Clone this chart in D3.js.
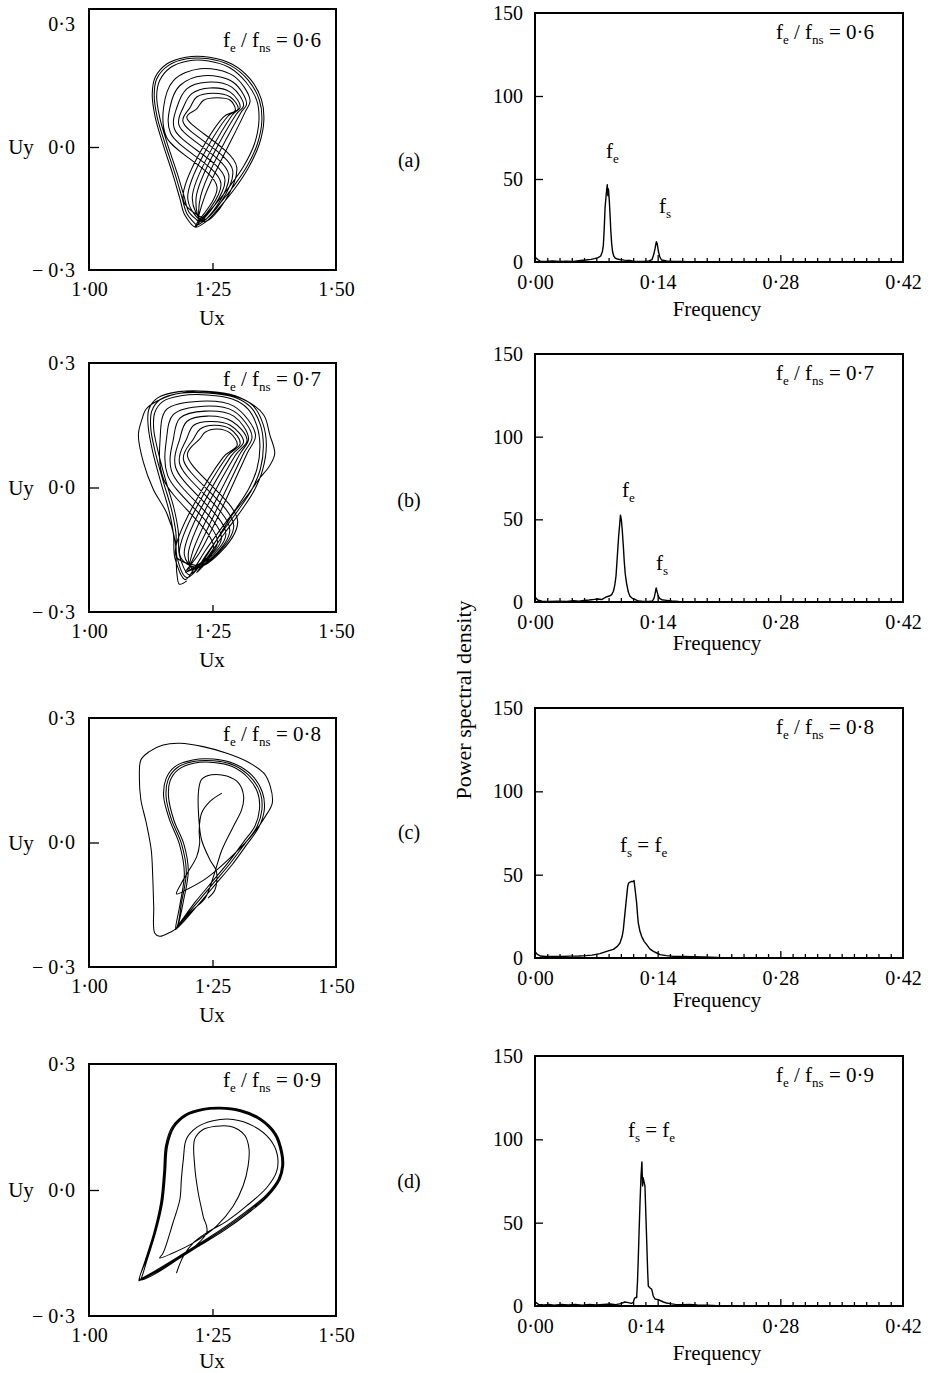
<!DOCTYPE html>
<html>
<head>
<meta charset="utf-8">
<script src="https://cdn.jsdelivr.net/npm/d3@7"></script>
<style>
  body { margin: 0; background: #fff; }
  svg { display: block; font-family: "Liberation Serif", "Times New Roman", serif; }
  text { fill: #000; white-space: pre; }
</style>
</head>
<body>
<svg id="fig" width="933" height="1373"></svg>
<script>
// ---------------- data ----------------
const ratioLabels = ["0·6", "0·7", "0·8", "0·9"];
const panelTags = ["(a)", "(b)", "(c)", "(d)"];

const uxTicks = [1.00, 1.25, 1.50];
const uxTickLabels = ["1·00", "1·25", "1·50"];
const uyTicks = [0.3, 0.0, -0.3];
const uyTickLabels = ["0·3", "0·0", "− 0·3"];
const freqTicks = [0, 0.14, 0.28, 0.42];
const freqTickLabels = ["0·00", "0·14", "0·28", "0·42"];
const psdTicks = [0, 50, 100, 150];

// Phase portraits (Ux, Uy): consecutive passes of the trajectory
const orbitA = [
  [[1.218,-0.191],[1.198,-0.162],[1.188,-0.122],[1.174,-0.065],[1.154,0.008],[1.138,0.073],[1.132,0.126],[1.137,0.166],[1.161,0.199],[1.198,0.215],[1.242,0.215],[1.286,0.199],[1.323,0.162],[1.345,0.114],[1.350,0.065],[1.341,0.008],[1.319,-0.049],[1.292,-0.097],[1.262,-0.142],[1.235,-0.178],[1.218,-0.191]],
  [[1.222,-0.185],[1.202,-0.158],[1.192,-0.118],[1.178,-0.062],[1.158,0.010],[1.143,0.073],[1.137,0.124],[1.143,0.162],[1.165,0.194],[1.200,0.210],[1.242,0.210],[1.284,0.194],[1.318,0.158],[1.340,0.112],[1.344,0.064],[1.335,0.008],[1.313,-0.047],[1.286,-0.094],[1.257,-0.138],[1.232,-0.172],[1.222,-0.185]],
  [[1.215,-0.195],[1.194,-0.166],[1.184,-0.126],[1.170,-0.068],[1.150,0.006],[1.134,0.073],[1.128,0.128],[1.134,0.170],[1.158,0.203],[1.196,0.219],[1.244,0.219],[1.290,0.202],[1.327,0.165],[1.349,0.116],[1.354,0.066],[1.345,0.008],[1.323,-0.050],[1.296,-0.100],[1.265,-0.146],[1.237,-0.182],[1.215,-0.195]],
  [[1.259,-0.097],[1.157,0.024],[1.151,0.097],[1.171,0.162],[1.225,0.191],[1.292,0.174],[1.326,0.114],[1.316,0.085],[1.235,-0.118],[1.221,-0.182]],
  [[1.267,-0.088],[1.165,0.034],[1.164,0.097],[1.184,0.150],[1.232,0.174],[1.292,0.158],[1.319,0.105],[1.307,0.083],[1.226,-0.120],[1.225,-0.180]],
  [[1.275,-0.078],[1.173,0.044],[1.178,0.097],[1.198,0.142],[1.238,0.158],[1.289,0.146],[1.313,0.101],[1.298,0.080],[1.217,-0.122],[1.228,-0.182]],
  [[1.283,-0.068],[1.182,0.054],[1.191,0.097],[1.208,0.130],[1.245,0.144],[1.286,0.134],[1.306,0.097],[1.290,0.078],[1.209,-0.125],[1.231,-0.178]],
  [[1.291,-0.058],[1.190,0.063],[1.205,0.097],[1.218,0.122],[1.252,0.131],[1.286,0.122],[1.302,0.093],[1.281,0.075],[1.200,-0.127],[1.235,-0.182]],
  [[1.299,-0.049],[1.198,0.073],[1.218,0.093],[1.232,0.114],[1.259,0.120],[1.286,0.114],[1.296,0.089],[1.272,0.073],[1.191,-0.130],[1.238,-0.178]]
];

const orbitB = [
  [[1.198,-0.225],[1.183,-0.233],[1.178,-0.208],[1.174,-0.127],[1.157,-0.061],[1.130,-0.004],[1.110,0.061],[1.100,0.127],[1.108,0.167],[1.115,0.188],[1.137,0.208],[1.198,0.230],[1.266,0.227],[1.320,0.208],[1.354,0.174],[1.366,0.127],[1.376,0.082],[1.366,0.053],[1.344,0.020],[1.320,-0.020],[1.293,-0.061]],
  [[1.198,-0.217],[1.178,-0.167],[1.176,-0.110],[1.167,-0.053],[1.151,0.012],[1.134,0.086],[1.125,0.143],[1.127,0.184],[1.144,0.212],[1.184,0.227],[1.239,0.228],[1.293,0.218],[1.327,0.194],[1.347,0.151],[1.353,0.102],[1.347,0.045],[1.330,-0.004],[1.303,-0.053],[1.273,-0.102],[1.239,-0.159],[1.215,-0.200]],
  [[1.202,-0.210],[1.183,-0.163],[1.181,-0.108],[1.172,-0.050],[1.156,0.014],[1.140,0.086],[1.131,0.141],[1.133,0.180],[1.149,0.207],[1.186,0.221],[1.239,0.223],[1.290,0.213],[1.322,0.189],[1.340,0.148],[1.346,0.100],[1.340,0.045],[1.324,-0.002],[1.298,-0.050],[1.268,-0.098],[1.235,-0.153],[1.213,-0.195]],
  [[1.195,-0.222],[1.174,-0.171],[1.171,-0.113],[1.162,-0.056],[1.146,0.010],[1.129,0.086],[1.120,0.145],[1.121,0.188],[1.139,0.216],[1.182,0.231],[1.239,0.232],[1.296,0.221],[1.332,0.197],[1.352,0.154],[1.359,0.104],[1.352,0.045],[1.335,-0.006],[1.308,-0.056],[1.277,-0.106],[1.243,-0.163],[1.218,-0.205]],
  [[1.252,-0.143],[1.151,0.020],[1.144,0.118],[1.157,0.188],[1.225,0.208],[1.293,0.196],[1.337,0.127],[1.320,0.082],[1.225,-0.155],[1.195,-0.204]],
  [[1.260,-0.133],[1.159,0.030],[1.157,0.118],[1.171,0.176],[1.232,0.196],[1.293,0.184],[1.330,0.123],[1.312,0.080],[1.217,-0.157],[1.200,-0.202]],
  [[1.268,-0.123],[1.167,0.040],[1.171,0.118],[1.184,0.167],[1.235,0.184],[1.293,0.172],[1.323,0.118],[1.304,0.078],[1.209,-0.158],[1.205,-0.199]],
  [[1.277,-0.114],[1.175,0.050],[1.184,0.118],[1.198,0.159],[1.239,0.172],[1.290,0.159],[1.320,0.114],[1.296,0.077],[1.201,-0.160],[1.211,-0.197]],
  [[1.285,-0.104],[1.183,0.060],[1.198,0.118],[1.212,0.150],[1.245,0.159],[1.286,0.150],[1.313,0.110],[1.287,0.075],[1.193,-0.162],[1.216,-0.194]],
  [[1.293,-0.094],[1.191,0.069],[1.212,0.118],[1.225,0.141],[1.252,0.150],[1.286,0.141],[1.306,0.106],[1.279,0.074],[1.184,-0.163],[1.222,-0.192]],
  [[1.301,-0.084],[1.199,0.079],[1.225,0.118],[1.235,0.133],[1.259,0.141],[1.286,0.131],[1.300,0.102],[1.271,0.072],[1.176,-0.165],[1.227,-0.190]]
];

const orbitC = [
  [[1.269,0.119],[1.245,0.099],[1.228,0.071],[1.223,0.030],[1.224,-0.002],[1.218,-0.034],[1.201,-0.070],[1.187,-0.098],[1.177,-0.124],[1.197,-0.114],[1.238,-0.086],[1.292,-0.030],[1.333,0.022],[1.357,0.063]],
  [[1.371,0.095],[1.367,0.135],[1.354,0.167],[1.320,0.195],[1.279,0.215],[1.231,0.231],[1.184,0.239],[1.150,0.235],[1.122,0.219],[1.105,0.199],[1.102,0.159],[1.105,0.103],[1.116,0.047],[1.126,-0.018],[1.129,-0.082],[1.131,-0.154],[1.133,-0.218],[1.143,-0.226],[1.163,-0.217]],
  [[1.177,-0.206],[1.187,-0.146],[1.197,-0.070],[1.187,-0.002],[1.167,0.055],[1.156,0.111],[1.160,0.151],[1.177,0.179],[1.211,0.195],[1.252,0.197],[1.292,0.187],[1.326,0.159],[1.347,0.119],[1.350,0.079],[1.340,0.038],[1.316,-0.002],[1.286,-0.050],[1.252,-0.098],[1.218,-0.146],[1.190,-0.186],[1.177,-0.206]],
  [[1.180,-0.200],[1.191,-0.142],[1.201,-0.068],[1.192,-0.004],[1.172,0.053],[1.161,0.110],[1.164,0.148],[1.180,0.175],[1.212,0.191],[1.252,0.193],[1.290,0.183],[1.322,0.156],[1.342,0.118],[1.345,0.079],[1.336,0.040],[1.312,0.000],[1.282,-0.048],[1.249,-0.095],[1.216,-0.142],[1.191,-0.182],[1.180,-0.200]],
  [[1.175,-0.210],[1.184,-0.150],[1.193,-0.074],[1.183,-0.004],[1.163,0.055],[1.151,0.112],[1.156,0.154],[1.174,0.183],[1.210,0.199],[1.252,0.201],[1.294,0.190],[1.330,0.162],[1.351,0.121],[1.355,0.080],[1.344,0.037],[1.320,-0.004],[1.290,-0.053],[1.256,-0.101],[1.221,-0.150],[1.192,-0.190],[1.175,-0.210]],
  [[1.207,-0.166],[1.235,-0.134],[1.252,-0.082],[1.269,-0.018],[1.292,0.038],[1.309,0.079],[1.313,0.111],[1.303,0.143],[1.279,0.160],[1.248,0.163],[1.228,0.152],[1.222,0.127],[1.222,0.063],[1.228,0.006],[1.245,-0.042],[1.258,-0.070],[1.255,-0.114],[1.241,-0.134]]
];

const orbitD = [
  [[1.177,-0.198],[1.191,-0.158],[1.211,-0.126],[1.238,-0.102],[1.279,-0.074],[1.319,-0.038],[1.360,0.006],[1.380,0.045],[1.381,0.085],[1.366,0.121],[1.333,0.152],[1.292,0.168],[1.251,0.165],[1.218,0.149],[1.197,0.121],[1.191,0.073],[1.187,0.026],[1.184,-0.022],[1.170,-0.078],[1.150,-0.150],[1.143,-0.162]],
  [[1.170,-0.150],[1.211,-0.126],[1.258,-0.086],[1.292,-0.038],[1.312,0.010],[1.322,0.057],[1.324,0.097],[1.316,0.129],[1.302,0.144],[1.285,0.152],[1.258,0.152],[1.231,0.144],[1.214,0.121],[1.214,0.057],[1.221,-0.006],[1.231,-0.062],[1.238,-0.102]],
  [[1.103,-0.214],[1.116,-0.166],[1.133,-0.102],[1.147,-0.030],[1.153,0.041],[1.157,0.105],[1.170,0.149],[1.197,0.179],[1.231,0.192],[1.265,0.195],[1.306,0.189],[1.346,0.169],[1.377,0.133],[1.390,0.089],[1.392,0.057],[1.385,0.026],[1.360,-0.014],[1.319,-0.054],[1.272,-0.094],[1.218,-0.134],[1.164,-0.174],[1.123,-0.202],[1.103,-0.214]],
  [[1.105,-0.212],[1.118,-0.165],[1.135,-0.101],[1.149,-0.030],[1.155,0.041],[1.159,0.104],[1.172,0.148],[1.198,0.177],[1.231,0.190],[1.265,0.193],[1.305,0.187],[1.345,0.167],[1.375,0.132],[1.388,0.089],[1.390,0.057],[1.383,0.026],[1.358,-0.013],[1.317,-0.052],[1.270,-0.092],[1.217,-0.132],[1.163,-0.172],[1.123,-0.200],[1.105,-0.212]],
  [[1.101,-0.216],[1.114,-0.167],[1.131,-0.103],[1.145,-0.030],[1.151,0.041],[1.155,0.106],[1.168,0.150],[1.196,0.181],[1.231,0.194],[1.265,0.197],[1.307,0.191],[1.347,0.171],[1.379,0.134],[1.392,0.089],[1.394,0.057],[1.387,0.025],[1.362,-0.015],[1.321,-0.056],[1.274,-0.096],[1.219,-0.136],[1.165,-0.176],[1.122,-0.204],[1.101,-0.216]]
];

// Power spectra: [frequency, power spectral density]
const spectrumA = [[0.000,3.0],[0.003,1.5],[0.006,0.5],[0.012,0.3],[0.020,0.6],[0.028,0.3],[0.036,0.5],[0.044,0.4],[0.052,0.9],[0.058,1.2],[0.064,1.6],[0.068,2.0],[0.072,2.6],[0.075,3.6],[0.077,6.5],[0.078,10],[0.079,20],[0.080,33],[0.0815,42],[0.0825,46.5],[0.0832,40],[0.0838,44],[0.0848,37],[0.0858,27],[0.0865,19],[0.0875,11],[0.0886,6],[0.090,3.5],[0.0915,2.4],[0.094,1.8],[0.097,1.4],[0.102,1.1],[0.108,0.9],[0.112,0.5],[0.118,0.4],[0.124,0.3],[0.130,0.6],[0.1335,1.4],[0.1355,4.5],[0.137,8],[0.1385,12.2],[0.1395,11],[0.141,6],[0.1425,3],[0.1445,1.2],[0.150,0.6],[0.158,0.4],[0.168,0.3],[0.180,0.1],[0.190,0]];
const spectrumB = [[0.000,3.0],[0.003,1.2],[0.008,0.5],[0.016,0.3],[0.026,0.5],[0.036,0.3],[0.044,0.8],[0.050,0.5],[0.056,0.9],[0.062,1.2],[0.068,1.6],[0.072,1.8],[0.076,1.5],[0.079,2.4],[0.082,3.2],[0.085,3.6],[0.0875,4.5],[0.0895,6.5],[0.091,10],[0.0925,16],[0.094,28],[0.0955,40],[0.0965,46],[0.0975,52.5],[0.0985,50],[0.0995,44],[0.1008,34],[0.1018,25],[0.103,17],[0.1046,11],[0.1065,6],[0.1084,3.5],[0.111,2.2],[0.1141,1.6],[0.118,0.6],[0.124,0.4],[0.130,0.3],[0.134,0.6],[0.136,2.5],[0.1372,5.5],[0.1383,8.5],[0.1395,6],[0.1408,3.4],[0.1425,2],[0.1446,1.4],[0.150,1.0],[0.156,0.6],[0.164,0.3],[0.175,0.1],[0.185,0]];
const spectrumC = [[0.000,4.0],[0.002,2.5],[0.006,1.2],[0.012,0.9],[0.020,1.0],[0.030,0.9],[0.040,1.1],[0.050,1.2],[0.058,1.4],[0.065,1.7],[0.0741,2.6],[0.0818,4.0],[0.0894,5.2],[0.094,7],[0.097,9],[0.0995,13],[0.1008,17],[0.1025,26],[0.1046,37],[0.1058,43],[0.1069,45],[0.1085,45.5],[0.1103,46],[0.1118,45.8],[0.113,46.5],[0.1145,40],[0.116,33],[0.117,26],[0.1179,21],[0.1198,16],[0.1217,13],[0.1245,10],[0.1275,8],[0.131,5.5],[0.1351,4],[0.139,3],[0.1427,2],[0.150,1.4],[0.158,1.0],[0.170,0.9],[0.181,0.8],[0.192,0.6],[0.2077,0.3],[0.215,0]];
const spectrumD = [[0.000,2.5],[0.004,1.0],[0.010,0.6],[0.016,1.0],[0.022,0.5],[0.030,1.0],[0.038,0.6],[0.046,0.9],[0.054,0.5],[0.062,1.0],[0.070,0.6],[0.078,0.9],[0.086,1.2],[0.092,0.8],[0.098,1.4],[0.1025,2.4],[0.1065,2.0],[0.110,1.6],[0.1122,2.2],[0.1135,4.5],[0.115,5.2],[0.116,5.0],[0.117,15],[0.1179,29],[0.119,48],[0.1198,61],[0.121,78],[0.122,86.5],[0.1228,72],[0.1234,77],[0.1242,75],[0.1255,72],[0.1265,55],[0.1275,39],[0.1285,22],[0.1293,12],[0.131,11],[0.1332,10],[0.135,6],[0.137,4.2],[0.139,4.0],[0.1407,3.8],[0.144,3.0],[0.1465,2.4],[0.150,1.8],[0.1541,1.4],[0.160,1.0],[0.168,0.8],[0.176,1.0],[0.185,0.6],[0.195,0.5],[0.2035,0.4],[0.210,0]];

// Peak annotations: anchor (frequency, psd) and text runs [text, isSubscript]
const peakLabelsA = [
  { f: 0.081, p: 62.7, runs: [["f", 0], ["e", 1]] },
  { f: 0.1415, p: 29.5, runs: [["f", 0], ["s", 1]] }
];
const peakLabelsB = [
  { f: 0.0993, p: 63.5, runs: [["f", 0], ["e", 1]] },
  { f: 0.138, p: 19.4, runs: [["f", 0], ["s", 1]] }
];
const peakLabelsC = [
  { f: 0.097, p: 63.6, runs: [["f", 0], ["s", 1], [" = f", 0], ["e", 1]] }
];
const peakLabelsD = [
  { f: 0.106, p: 101.4, runs: [["f", 0], ["s", 1], [" = f", 0], ["e", 1]] }
];

// ---------------- layout ----------------
const W = 933, H = 1373;
const pLeft = 89, pRight = 336;   // phase-portrait frames
const sLeft = 535, sRight = 903;  // spectrum frames
const rowLayout = [
  { pTop: 9,    pZero: 147,   pBottom: 270,  uxBase: 325,  sTop: 13,   sBottom: 262,  freqBase: 316,  tagBase: 167,  shift014: 0 },
  { pTop: 363,  pZero: 487.5, pBottom: 612,  uxBase: 667,  sTop: 354,  sBottom: 602,  freqBase: 650,  tagBase: 507,  shift014: 0 },
  { pTop: 718,  pZero: 842.5, pBottom: 967,  uxBase: 1022, sTop: 708,  sBottom: 958,  freqBase: 1007, tagBase: 839,  shift014: 0 },
  { pTop: 1064, pZero: 1190,  pBottom: 1316, uxBase: 1368, sTop: 1056, sBottom: 1306, freqBase: 1360, tagBase: 1188, shift014: -12 }
];
const orbits = [orbitA, orbitB, orbitC, orbitD];
const spectra = [spectrumA, spectrumB, spectrumC, spectrumD];
const peakLabels = [peakLabelsA, peakLabelsB, peakLabelsC, peakLabelsD];

const TICK_FONT = 20, TITLE_FONT = 21, NOTE_FONT = 21, SUB_FONT = 13;

const svg = d3.select("#fig");
svg.append("rect").attr("width", W).attr("height", H).attr("fill", "#fff");

// text with subscript runs
function richText(parent, x, y, runs, size, subSize) {
  const t = parent.append("text").attr("x", x).attr("y", y).attr("font-size", size);
  let lowered = false;
  runs.forEach(([s, sub]) => {
    const span = t.append("tspan").text(s).attr("font-size", sub ? subSize : size);
    if (sub && !lowered) { span.attr("dy", size * 0.26); lowered = true; }
    else if (!sub && lowered) { span.attr("dy", -size * 0.26); lowered = false; }
  });
  return t;
}

function styleAxis(g, size) {
  g.attr("font-family", null).attr("font-size", null);
  g.select(".domain").remove();
  g.selectAll("text").attr("font-size", size).attr("fill", "#000");
  g.selectAll("line").attr("stroke", "#000").attr("stroke-width", 1.3);
}

const orbitLine = d3.line().curve(d3.curveCatmullRom.alpha(0.5));

rowLayout.forEach((L, r) => {
  // ---------- phase portrait ----------
  const x = d3.scaleLinear().domain([1.0, 1.5]).range([pLeft, pRight]);
  const y = d3.scaleLinear().domain([-0.3, 0.3]).range([L.pBottom, 2 * L.pZero - L.pBottom]);
  const gp = svg.append("g");

  const pts = orbits[r].flat().map(d => [x(d[0]), y(d[1])]);
  gp.append("path").attr("d", orbitLine(pts))
    .attr("fill", "none").attr("stroke", "#000").attr("stroke-width", 1.05)
    .attr("stroke-linejoin", "round");

  gp.append("rect").attr("x", pLeft).attr("y", L.pTop)
    .attr("width", pRight - pLeft).attr("height", L.pBottom - L.pTop)
    .attr("fill", "none").attr("stroke", "#000").attr("stroke-width", 2);

  // inner tick marks
  gp.append("g").attr("transform", `translate(0,${L.pBottom})`)
    .call(d3.axisBottom(x).tickValues([1.25]).tickSize(-7).tickFormat(""))
    .call(g => styleAxis(g, TICK_FONT));
  gp.append("g").attr("transform", `translate(${pLeft},0)`)
    .call(d3.axisLeft(y).tickValues([0]).tickSize(-10).tickFormat(""))
    .call(g => styleAxis(g, TICK_FONT));

  // tick labels
  gp.append("g").attr("transform", `translate(0,${L.pBottom})`)
    .call(d3.axisBottom(x).tickValues(uxTicks).tickSize(0).tickPadding(12)
      .tickFormat((d, i) => uxTickLabels[i]))
    .call(g => styleAxis(g, TICK_FONT));
  gp.append("g").attr("transform", `translate(${pLeft},0)`)
    .call(d3.axisLeft(y).tickValues(uyTicks).tickSize(0).tickPadding(14)
      .tickFormat((d, i) => uyTickLabels[i]))
    .call(g => styleAxis(g, TICK_FONT));

  gp.append("text").attr("x", (pLeft + pRight) / 2 - 0.5).attr("y", L.uxBase)
    .attr("text-anchor", "middle").attr("font-size", TITLE_FONT).text("Ux");
  gp.append("text").attr("x", 21).attr("y", L.pZero + 7)
    .attr("text-anchor", "middle").attr("font-size", TITLE_FONT).text("Uy");

  richText(gp, 223, y(0.3) + 23, [["f", 0], ["e", 1], [" / f", 0], ["ns", 1], [" = " + ratioLabels[r], 0]], NOTE_FONT, SUB_FONT);

  // ---------- row tag ----------
  svg.append("text").attr("x", 409).attr("y", L.tagBase)
    .attr("text-anchor", "middle").attr("font-size", TICK_FONT).text(panelTags[r]);

  // ---------- power spectrum ----------
  const fx = d3.scaleLinear().domain([0, 0.42]).range([sLeft, sRight]);
  const py = d3.scaleLinear().domain([0, 150]).range([L.sBottom, L.sTop]);
  const gs = svg.append("g");

  gs.append("path").datum(spectra[r])
    .attr("d", d3.line().x(d => fx(d[0])).y(d => py(d[1])))
    .attr("fill", "none").attr("stroke", "#000").attr("stroke-width", 1.4)
    .attr("stroke-linejoin", "round");

  gs.append("rect").attr("x", sLeft).attr("y", L.sTop)
    .attr("width", sRight - sLeft).attr("height", L.sBottom - L.sTop)
    .attr("fill", "none").attr("stroke", "#000").attr("stroke-width", 2);

  const minorTicks = d3.range(1, 30).filter(i => i % 10 !== 0).map(i => i * 0.014);
  gs.append("g").attr("transform", `translate(0,${L.sBottom})`)
    .call(d3.axisBottom(fx).tickValues(minorTicks).tickSize(-4).tickFormat(""))
    .call(g => styleAxis(g, TICK_FONT));
  gs.append("g").attr("transform", `translate(0,${L.sBottom})`)
    .call(d3.axisBottom(fx).tickValues([0.14, 0.28]).tickSize(-7).tickFormat(""))
    .call(g => styleAxis(g, TICK_FONT));
  gs.append("g").attr("transform", `translate(${sLeft},0)`)
    .call(d3.axisLeft(py).tickValues([50, 100]).tickSize(-8).tickFormat(""))
    .call(g => styleAxis(g, TICK_FONT));

  gs.append("g").attr("transform", `translate(0,${L.sBottom})`)
    .call(d3.axisBottom(fx).tickValues(freqTicks).tickSize(0).tickPadding(13)
      .tickFormat((d, i) => freqTickLabels[i]))
    .call(g => styleAxis(g, TICK_FONT))
    .call(g => g.selectAll(".tick").filter(d => d === 0.14).select("text").attr("dx", L.shift014));
  gs.append("g").attr("transform", `translate(${sLeft},0)`)
    .call(d3.axisLeft(py).tickValues(psdTicks).tickSize(0).tickPadding(12))
    .call(g => styleAxis(g, TICK_FONT));

  gs.append("text").attr("x", (sLeft + sRight) / 2 - 2).attr("y", L.freqBase)
    .attr("text-anchor", "middle").attr("font-size", TITLE_FONT).text("Frequency");

  richText(gs, 776, L.sTop + 26, [["f", 0], ["e", 1], [" / f", 0], ["ns", 1], [" = " + ratioLabels[r], 0]], NOTE_FONT, SUB_FONT);

  peakLabels[r].forEach(lab => {
    richText(gs, fx(lab.f), py(lab.p), lab.runs, NOTE_FONT, SUB_FONT);
  });
});

// shared y title for the spectra
svg.append("text")
  .attr("transform", "translate(463,700) rotate(-90)")
  .attr("text-anchor", "middle").attr("dominant-baseline", "central")
  .attr("font-size", 22).text("Power spectral density");
</script>
</body>
</html>
